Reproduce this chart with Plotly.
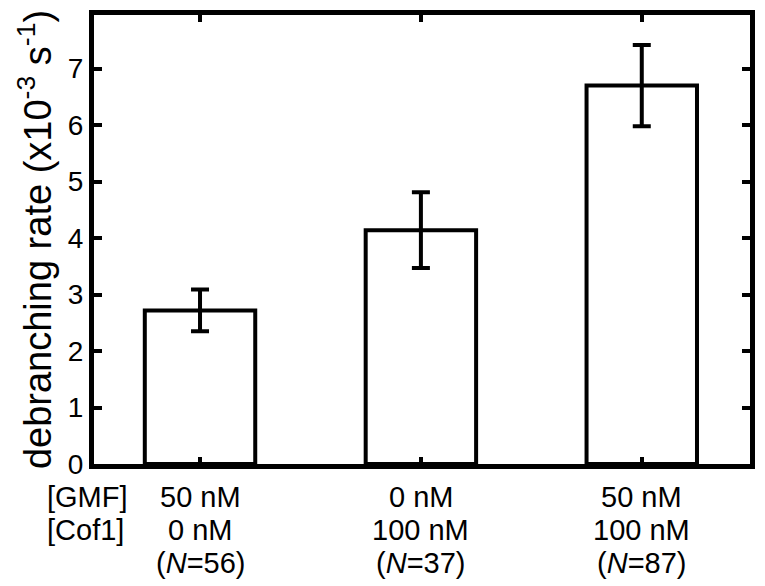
import plotly.graph_objects as go

# Data
conditions = ["GMF 50 / Cof1 0", "GMF 0 / Cof1 100", "GMF 50 / Cof1 100"]
gmf_labels = ["50 nM", "0 nM", "50 nM"]
cof1_labels = ["0 nM", "100 nM", "100 nM"]
n_labels = ["(<i>N</i>=56)", "(<i>N</i>=37)", "(<i>N</i>=87)"]
row_labels = ["[GMF]", "[Cof1]"]
rates = [2.72, 4.14, 6.70]
errors = [0.37, 0.67, 0.72]
y_ticks = [0, 1, 2, 3, 4, 5, 6, 7]

FONT = "Liberation Sans, Arial, Helvetica, sans-serif"
xpos = list(range(len(conditions)))

fig = go.Figure()
fig.add_trace(go.Bar(
    x=xpos, y=rates, width=0.5,
    marker=dict(color="white", line=dict(color="black", width=4)),
    error_y=dict(type="data", array=errors, visible=True,
                 color="black", thickness=4, width=9),
    showlegend=False,
))

annotations = []
for i in xpos:
    for k, txt in enumerate([gmf_labels[i], cof1_labels[i], n_labels[i]]):
        annotations.append(dict(
            x=i, y=0, xref="x", yref="paper", text=txt, showarrow=False,
            xanchor="center", yanchor="middle", yshift=-33 - 33 * k,
            font=dict(family=FONT, size=29, color="black")))
for k, txt in enumerate(row_labels):
    annotations.append(dict(
        x=-0.074, y=0, xref="paper", yref="paper", text=txt, showarrow=False,
        xanchor="left", yanchor="middle", yshift=-33 - 33 * k,
        font=dict(family=FONT, size=29, color="black")))

fig.update_layout(
    width=765, height=586,
    margin=dict(l=94, r=10, t=10, b=122),
    plot_bgcolor="white", paper_bgcolor="white",
    font=dict(family=FONT, color="black"),
    annotations=annotations,
    xaxis=dict(
        range=[-0.48, 2.49], tickvals=xpos, showticklabels=False,
        ticks="inside", ticklen=7, tickwidth=4, tickcolor="black",
        showline=True, linewidth=5, linecolor="black", mirror="ticks",
        showgrid=False, zeroline=False),
    yaxis=dict(
        range=[0, 7.95], tickvals=y_ticks,
        ticks="inside", ticklen=8, tickwidth=4, tickcolor="black",
        showline=True, linewidth=5, linecolor="black", mirror="ticks",
        showgrid=False, zeroline=False,
        tickfont=dict(family=FONT, size=28, color="black"),
        title=dict(text="debranching rate (x10<sup>-3</sup> s<sup>-1</sup>)",
                   font=dict(family=FONT, size=38, color="black"), standoff=6)),
)

fig.write_html("out.html", config={"displayModeBar": False},
               post_script="document.body.style.margin='0';document.body.style.overflow='hidden';")
